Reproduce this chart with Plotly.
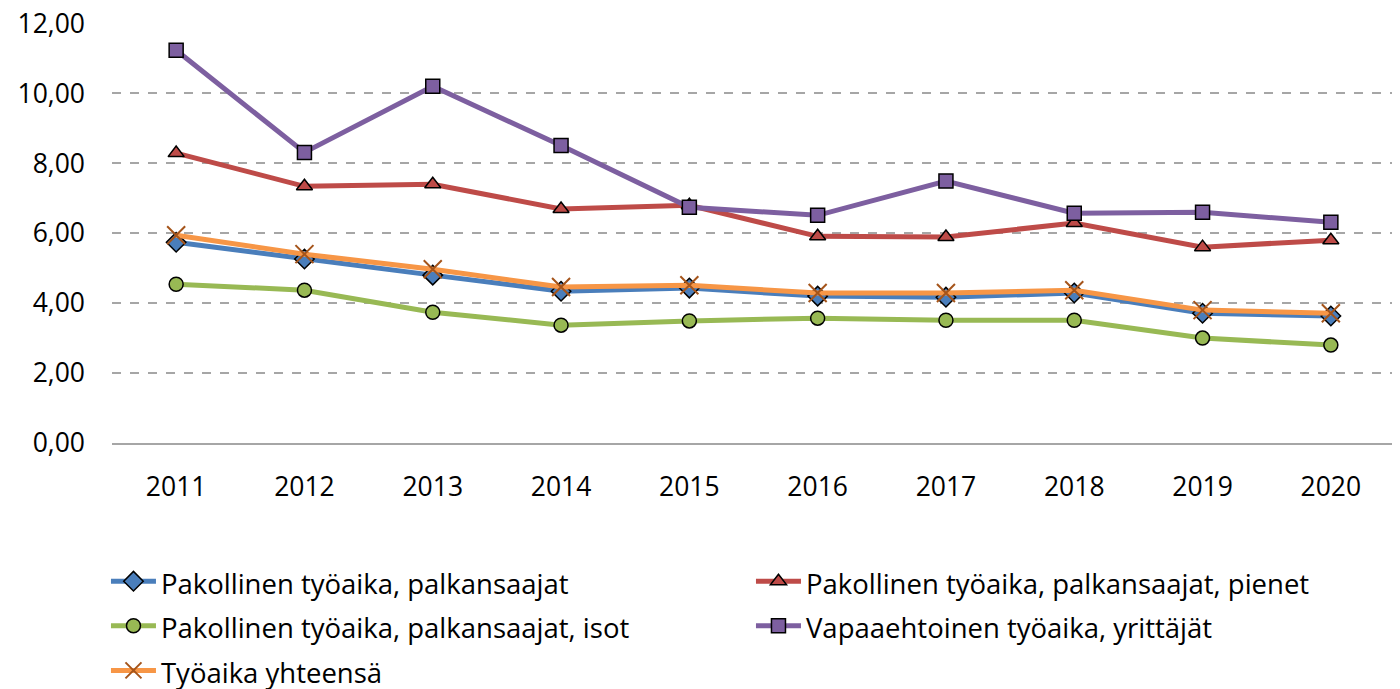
import plotly.graph_objects as go

years = ["2011", "2012", "2013", "2014", "2015", "2016", "2017", "2018", "2019", "2020"]

palkansaajat = [5.74, 5.26, 4.80, 4.34, 4.43, 4.20, 4.17, 4.29, 3.71, 3.63]
pienet = [8.29, 7.34, 7.40, 6.69, 6.80, 5.91, 5.89, 6.29, 5.60, 5.80]
isot = [4.54, 4.37, 3.74, 3.37, 3.49, 3.57, 3.51, 3.51, 3.00, 2.80]
yrittajat = [11.23, 8.31, 10.20, 8.51, 6.74, 6.51, 7.49, 6.57, 6.60, 6.31]
yhteensa = [5.94, 5.40, 4.97, 4.46, 4.51, 4.29, 4.29, 4.37, 3.80, 3.71]

names = [
    "Pakollinen työaika, palkansaajat",
    "Pakollinen työaika, palkansaajat, pienet",
    "Pakollinen työaika, palkansaajat, isot",
    "Vapaaehtoinen työaika, yrittäjät",
    "Työaika yhteensä",
]


def label(n):
    return '<span style="font-size:27.5px">' + n + "</span>"


fig = go.Figure()
series = [
    (palkansaajat, names[0], "#4A7EBB", "diamond", 15),
    (pienet, names[1], "#BE4B48", "triangle-up", 14),
    (isot, names[2], "#98B954", "circle", 14),
    (yrittajat, names[3], "#7D5FA0", "square", 14),
]
for vals, nm, col, sym, sz in series:
    fig.add_trace(go.Scatter(
        x=years, y=vals, name=label(nm), mode="lines+markers",
        line=dict(color=col, width=5),
        marker=dict(symbol=sym, size=sz, color=col, line=dict(color="black", width=1.5)),
    ))
fig.add_trace(go.Scatter(
    x=years, y=yhteensa, name=label(names[4]), mode="lines+markers",
    line=dict(color="#F79646", width=5),
    marker=dict(symbol="x-thin-open", size=18, color="#A5541A", line=dict(color="#A5541A", width=2)),
))

# page body has an 8px default margin, so the figure is sized/offset to compensate
fig.update_layout(
    width=1392, height=681,
    margin=dict(l=104, r=5, t=15, b=246, autoexpand=False),
    plot_bgcolor="white", paper_bgcolor="white",
    font=dict(family="Open Sans", size=26.5, color="black"),
    separators=", ",
    showlegend=True,
    legend=dict(
        orientation="h", x=-0.0047, xanchor="left", y=-0.264, yanchor="top",
        entrywidth=585, entrywidthmode="pixels",
        font=dict(size=32), itemwidth=45, tracegroupgap=0,
    ),
)
fig.update_yaxes(
    range=[0, 12.01], tickvals=[0, 2, 4, 6, 8, 10, 12], tickformat=".2f", automargin=False,
    ticklabeloverflow="allow",
    showgrid=True, gridcolor="#A6A6A6", griddash="dash", gridwidth=1.5,
    zeroline=False, ticks="", ticklabelstandoff=26,
)
fig.update_xaxes(
    type="category", range=[-0.5, 9.5], automargin=False,
    showgrid=False, showline=True, linecolor="#A6A6A6", linewidth=1.5,
    ticks="", ticklabelstandoff=19,
)

fig.write_html("out.html")
